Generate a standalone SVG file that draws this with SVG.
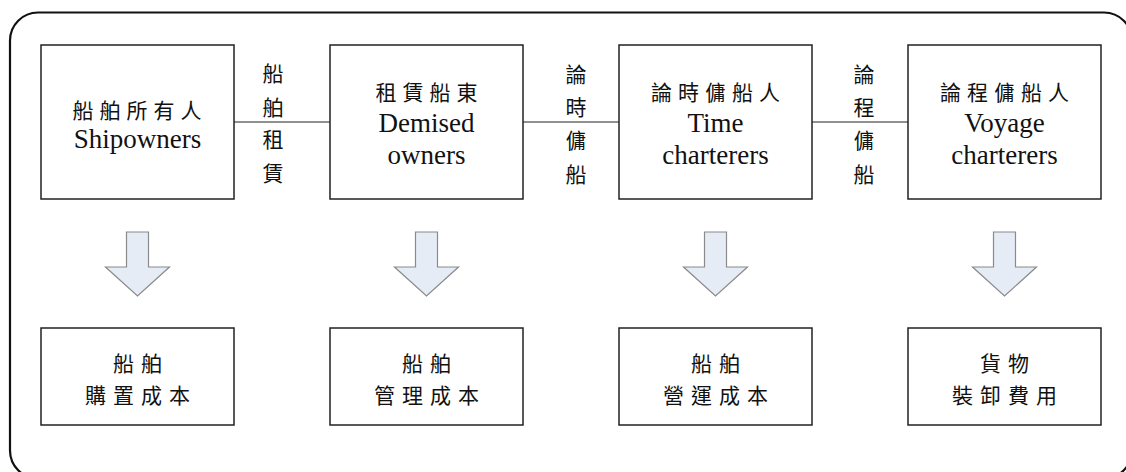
<svg xmlns="http://www.w3.org/2000/svg" width="1126" height="472" viewBox="0 0 1126 472">
<style>
.box{fill:#fff;stroke:#222;stroke-width:1.5}
.cjk{font-family:"Noto Sans CJK TC","Noto Sans CJK SC",sans-serif;font-size:21px;fill:#111;text-anchor:middle}
.lat{font-family:"Liberation Serif","Times New Roman","DejaVu Serif",serif;font-size:27px;fill:#111;text-anchor:middle}
.arrow{fill:#E5ECF6;stroke:#8A8A8A;stroke-width:1.2}
.conn{stroke:#222;stroke-width:1.2;fill:none}
</style>
<rect x="10" y="12.5" width="1122" height="466" rx="28" ry="28" fill="#fff" stroke="#111" stroke-width="2.2"/>
<g id="connectors">
<line class="conn" x1="234" y1="122" x2="330" y2="122"/>
<line class="conn" x1="523" y1="122" x2="619" y2="122"/>
<line class="conn" x1="812" y1="122" x2="908" y2="122"/>
<text class="cjk" x="273" y="81">船</text>
<text class="cjk" x="273" y="115">舶</text>
<text class="cjk" x="273" y="147">租</text>
<text class="cjk" x="273" y="181">賃</text>
<text class="cjk" x="576" y="82">論</text>
<text class="cjk" x="576" y="115">時</text>
<text class="cjk" x="576" y="148">傭</text>
<text class="cjk" x="576" y="182">船</text>
<text class="cjk" x="864" y="82">論</text>
<text class="cjk" x="864" y="115">程</text>
<text class="cjk" x="864" y="148">傭</text>
<text class="cjk" x="864" y="182">船</text>
<path class="arrow" d="M126.5,232 H148.5 V267 H169.5 L137.5,296 L105.5,267 H126.5 Z"/>
<path class="arrow" d="M415.5,232 H437.5 V267 H458.5 L426.5,296 L394.5,267 H415.5 Z"/>
<path class="arrow" d="M704.5,232 H726.5 V267 H747.5 L715.5,296 L683.5,267 H704.5 Z"/>
<path class="arrow" d="M993.5,232 H1015.5 V267 H1036.5 L1004.5,296 L972.5,267 H993.5 Z"/>
</g>
<g id="shipowners">
<rect class="box" x="41" y="45" width="193" height="154"/>
<text class="cjk" x="140" y="118" letter-spacing="6">船舶所有人</text>
<text class="lat" x="137.5" y="148">Shipowners</text>
</g>
<g id="demised">
<rect class="box" x="330" y="45" width="193" height="154"/>
<text class="cjk" x="429.5" y="100" letter-spacing="6">租賃船東</text>
<text class="lat" x="426.5" y="132">Demised</text>
<text class="lat" x="426.5" y="164">owners</text>
</g>
<g id="time">
<rect class="box" x="619" y="45" width="193" height="154"/>
<text class="cjk" x="718.5" y="100" letter-spacing="6">論時傭船人</text>
<text class="lat" x="715.5" y="132">Time</text>
<text class="lat" x="715.5" y="164">charterers</text>
</g>
<g id="voyage">
<rect class="box" x="908" y="45" width="193" height="154"/>
<text class="cjk" x="1007.5" y="100" letter-spacing="6">論程傭船人</text>
<text class="lat" x="1004.5" y="132">Voyage</text>
<text class="lat" x="1004.5" y="164">charterers</text>
</g>
<g id="cost1">
<rect class="box" x="41" y="328" width="193" height="97"/>
<text class="cjk" x="141" y="371" letter-spacing="7">船舶</text>
<text class="cjk" x="141" y="403" letter-spacing="7">購置成本</text>
</g>
<g id="cost2">
<rect class="box" x="330" y="328" width="193" height="97"/>
<text class="cjk" x="430" y="371" letter-spacing="7">船舶</text>
<text class="cjk" x="430" y="403" letter-spacing="7">管理成本</text>
</g>
<g id="cost3">
<rect class="box" x="619" y="328" width="193" height="97"/>
<text class="cjk" x="719" y="371" letter-spacing="7">船舶</text>
<text class="cjk" x="719" y="403" letter-spacing="7">營運成本</text>
</g>
<g id="cost4">
<rect class="box" x="908" y="328" width="193" height="97"/>
<text class="cjk" x="1008" y="371" letter-spacing="7">貨物</text>
<text class="cjk" x="1008" y="403" letter-spacing="7">裝卸費用</text>
</g>
</svg>
